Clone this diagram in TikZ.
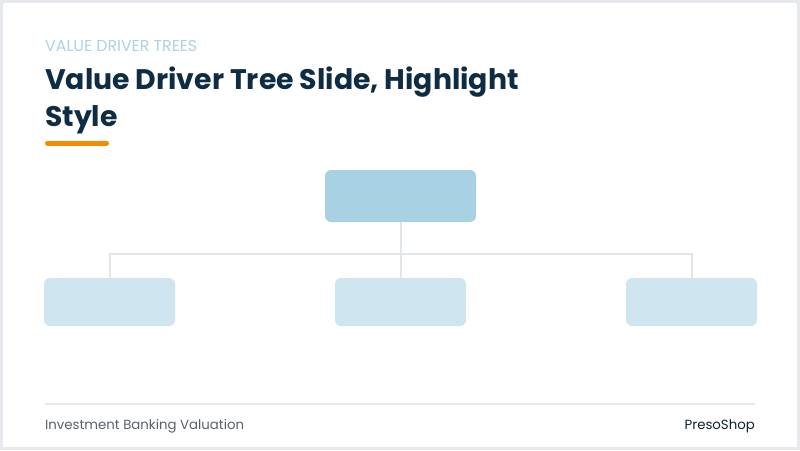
\documentclass[tikz,border=0pt]{standalone}
\usepackage{fontspec}
\setmainfont{Poppins}
\definecolor{navy}{HTML}{0E2D45}
\definecolor{kicker}{HTML}{ADD3E0}
\definecolor{topfill}{HTML}{A8D2E4}
\definecolor{subfill}{HTML}{CFE5EF}
\definecolor{linkc}{HTML}{E0E6EA}
\definecolor{framec}{HTML}{E6EAEE}
\definecolor{accent}{HTML}{F28C00}
\definecolor{foot}{HTML}{59616A}
\tikzset{
  topbox/.style={draw=none, fill=topfill, rounded corners=6pt, minimum width=151pt, minimum height=52pt, inner sep=0pt},
  subbox/.style={draw=none, fill=subfill, rounded corners=6pt, minimum width=131pt, minimum height=48pt, inner sep=0pt},
  link/.style={draw=linkc, line width=2pt},
  txt/.style={inner sep=0pt, anchor=base west}
}
\begin{document}
\begin{tikzpicture}[x=1pt,y=-1pt]
\useasboundingbox (0,0) rectangle (800,450);
\fill[framec] (0,0) rectangle (800,450);
\fill[white] (3,3) rectangle (797,447);
% header
\node[txt, text=kicker, font=\fontsize{15.8}{18}\selectfont] (kick) at (45,51) {VALUE DRIVER TREES};
\node[txt, text=navy, font=\fontsize{28.3}{38}\bfseries] (t1) at (45,89) {Value Driver Tree Slide, Highlight};
\node[txt, text=navy, font=\fontsize{28.3}{38}\bfseries] (t2) at (45,126) {Style};
\draw[accent, line width=5pt, line cap=round] (47.5,143) coordinate (u1) -- (106.5,143) coordinate (u2);
% tree
\node[topbox] (root) at (400.5,196) {};
\node[subbox] (a) at (109.5,302) {};
\node[subbox] (b) at (400.5,302) {};
\node[subbox] (c) at (691.5,302) {};
\coordinate (bus) at (400.5,253.5);
\draw[link] (root.south) -- (b.north);
\draw[link] (a.north) |- (bus) -| (c.north);
% footer
\draw[framec, line width=1.5pt] (45,404) coordinate (f1) -- (755,404) coordinate (f2);
\node[txt, text=foot, font=\fontsize{13.3}{16}\selectfont] (ft) at (45,429) {Investment Banking Valuation};
\node[inner sep=0pt, anchor=base east, text=navy!80!black, font=\fontsize{13.3}{16}\selectfont] (brand) at (755,429) {PresoShop};
\end{tikzpicture}
\end{document}
